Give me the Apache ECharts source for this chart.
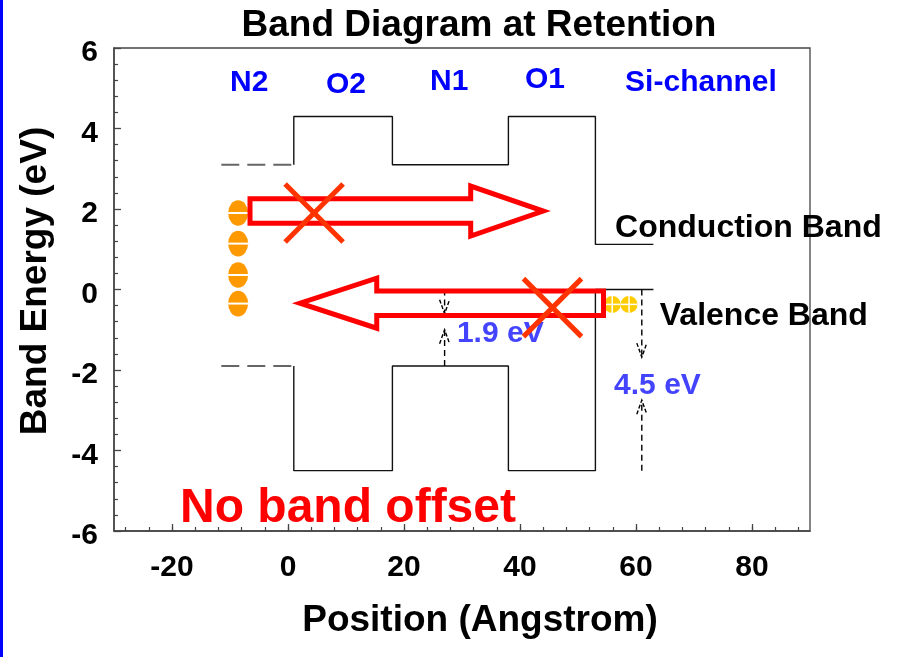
<!DOCTYPE html>
<html>
<head>
<meta charset="utf-8">
<title>Band Diagram at Retention</title>
<script src="https://cdn.jsdelivr.net/npm/echarts@6/dist/echarts.min.js"></script>
<style>
  html, body { margin: 0; padding: 0; background: #ffffff; }
  #chart { width: 899px; height: 657px; }
</style>
</head>
<body>
<div id="chart"></div>
<script>
// ---- Stack layers (N2 / O2 / N1 / O1 / Si channel) ----
const layerNames = ['N2', 'O2', 'N1', 'O1', 'Si-channel'];
const layerEdges = [-11.5, 1, 18, 38, 53, 63];          // layer boundaries, Angstrom
const conductionBand = [3.1, 4.3, 3.1, 4.3, 1.12];      // eV, one value per layer
const valenceBand = [-1.9, -4.5, -1.9, -4.5, 0];        // eV, one value per layer
const layerLabelX = [-6.7, 10, 27.8, 44.3, 71.2];
const layerLabelY = [5.14, 5.09, 5.15, 5.2, 5.13];

// ---- Axis ticks ----
const xMajorTicks = [-20, 0, 20, 40, 60, 80];
const xMinorTicks = [-28, -24, -20, -16, -12, -8, -4, 0, 4, 8, 12, 16, 20, 24, 28, 32, 36,
                     40, 44, 48, 52, 56, 60, 64, 68, 72, 76, 80, 84, 88];
const yTickLabels = [-6, -4, -2, 0, 2, 4, 6];

// ---- Band name labels ----
const bandNames = ['Conduction Band', 'Valence Band'];
const bandNameX = [56.4, 64.1];
const bandNameY = [1.52, -0.66];

// ---- Stored electrons in N2 and holes in the Si channel ----
const electronX = [-8.6, -8.6, -8.6, -8.6];
const electronY = [1.9, 1.14, 0.36, -0.35];
const holeX = [55.9, 58.8];
const holeY = [-0.37, -0.37];

// ---- Hollow block arrows (tail x, head-base x, tip x, energy) ----
const arrowTailX = [-6.55, 54.4];
const arrowHeadX = [31.5, 15.3];
const arrowTipX = [44.0, 2.07];
const arrowY = [1.95, -0.34];

// ---- Crosses over the blocked paths ----
const crossX = [4.5, 45.6];
const crossY = [1.9, -0.45];

// ---- Valence band offset markers, measured from the Si valence band ----
const offsetMarkX = [27, 61];
const offsetLayer = [2, 3];               // N1, O1
const offsetTipTop = [-0.6, -1.68];
const offsetTipBottom = [-1.0, -2.75];
const offsetLabelX = [36.6, 63.7];
const offsetLabelY = [-1.1, -2.4];

const FONT = '"Liberation Sans", Arial, Helvetica, sans-serif';
const SI = layerNames.length - 1;

// step outline of one band edge through the solid layers
function bandPath(levels) {
  const pts = [[layerEdges[1], levels[0]]];
  for (let i = 1; i < levels.length; i++) {
    pts.push([layerEdges[i], levels[i]]);
    pts.push([layerEdges[i + 1], levels[i]]);
  }
  return pts;
}

// text annotations placed in data coordinates
const textItems = [];
layerNames.forEach((n, i) => textItems.push({ x: layerLabelX[i], y: layerLabelY[i], text: n,
  font: 'bold 30px ' + FONT, fill: '#0000FF', align: 'center' }));
bandNames.forEach((n, i) => textItems.push({ x: bandNameX[i], y: bandNameY[i], text: n,
  font: 'bold 32px ' + FONT, fill: '#000000', align: 'left' }));
offsetMarkX.forEach((x, i) => {
  const gap = valenceBand[SI] - valenceBand[offsetLayer[i]];
  textItems.push({ x: offsetLabelX[i], y: offsetLabelY[i], text: gap.toFixed(1) + ' eV',
    font: 'bold 30px ' + FONT, fill: '#4444FF', align: 'center' });
});

const chart = echarts.init(document.getElementById('chart'), null, { renderer: 'canvas' });

const axisColor = '#444444';

const option = {
  animation: false,
  backgroundColor: '#ffffff',
  title: {
    text: 'Band Diagram at Retention',
    left: 479, top: 7, textAlign: 'center', padding: 0,
    textStyle: { fontFamily: FONT, fontWeight: 'bold', fontSize: 37, color: '#000000' }
  },
  grid: {
    left: 114, right: 89, top: 48, bottom: 126,
    show: true, borderColor: axisColor, borderWidth: 1.3, backgroundColor: 'transparent'
  },
  xAxis: [
    {
      type: 'value', min: -30, max: 90, position: 'bottom',
      axisLine: { show: true, onZero: false, lineStyle: { color: axisColor, width: 1.5 } },
      axisTick: { show: true, inside: true, length: 7, customValues: xMajorTicks,
                  lineStyle: { color: axisColor, width: 1.3 } },
      axisLabel: { show: true, customValues: xMajorTicks, margin: 22,
                   fontFamily: FONT, fontWeight: 'bold', fontSize: 30, color: '#000000' },
      splitLine: { show: false }
    },
    {
      type: 'value', min: -30, max: 90, position: 'bottom',
      axisLine: { show: false, onZero: false },
      axisTick: { show: true, inside: true, length: 4, customValues: xMinorTicks,
                  lineStyle: { color: axisColor, width: 1.2 } },
      axisLabel: { show: false },
      splitLine: { show: false }
    }
  ],
  yAxis: {
    type: 'value', min: -6, max: 6, interval: 2,
    axisLine: { show: true, onZero: false, lineStyle: { color: axisColor, width: 1.5 } },
    axisTick: { show: true, inside: true, length: 7, lineStyle: { color: axisColor, width: 1.3 } },
    minorTick: { show: true, splitNumber: 5, length: 4, lineStyle: { color: axisColor, width: 1.2 } },
    axisLabel: {
      show: true, margin: 16, color: '#000000',
      formatter: v => (yTickLabels.indexOf(v) >= 0 ? '{t|' + v + '}' : ''),
      rich: { t: { fontFamily: FONT, fontWeight: 'bold', fontSize: 30, color: '#000000',
                   padding: [10, 0, 0, 0] } }
    },
    splitLine: { show: false }
  },
  graphic: [
    { type: 'rect', left: 0, top: 0, shape: { width: 3, height: 657 }, style: { fill: '#0000FF' }, z: 10 },
    { type: 'text', x: 480, y: 621, z: 10,
      style: { text: 'Position (Angstrom)', font: 'bold 37px ' + FONT, fill: '#000000',
               textAlign: 'center', textVerticalAlign: 'middle' } },
    { type: 'text', x: 36, y: 281, rotation: Math.PI / 2, z: 10,
      style: { text: 'Band Energy (eV)', font: 'bold 37px ' + FONT, fill: '#000000',
               textAlign: 'center', textVerticalAlign: 'middle' } },
    { type: 'text', x: 348, y: 509, z: 10,
      style: { text: 'No band offset', font: 'bold 48px ' + FONT, fill: '#FF0000',
               textAlign: 'center', textVerticalAlign: 'middle' } }
  ],
  series: [
    {
      name: 'N2 conduction edge', type: 'line', xAxisIndex: 0, yAxisIndex: 0,
      symbol: 'none', z: 3,
      lineStyle: { color: '#666666', width: 2, type: [18, 8] },
      data: [[layerEdges[0], conductionBand[0]], [layerEdges[1], conductionBand[0]]]
    },
    {
      name: 'N2 valence edge', type: 'line', xAxisIndex: 0, yAxisIndex: 0,
      symbol: 'none', z: 3,
      lineStyle: { color: '#666666', width: 2, type: [18, 8] },
      data: [[layerEdges[0], valenceBand[0]], [layerEdges[1], valenceBand[0]]]
    },
    {
      name: 'Conduction band', type: 'line', xAxisIndex: 0, yAxisIndex: 0,
      symbol: 'none', z: 3,
      lineStyle: { color: '#111111', width: 1.4 },
      data: bandPath(conductionBand)
    },
    {
      name: 'Valence band', type: 'line', xAxisIndex: 0, yAxisIndex: 0,
      symbol: 'none', z: 3,
      lineStyle: { color: '#111111', width: 1.4 },
      data: bandPath(valenceBand)
    },
    {
      name: 'Offset markers', type: 'custom', xAxisIndex: 0, yAxisIndex: 0, z: 4,
      data: offsetMarkX.map((x, i) => [x, valenceBand[SI], offsetTipTop[i], offsetTipBottom[i],
                                       valenceBand[offsetLayer[i]]]),
      encode: { x: 0, y: [1, 2, 3, 4] },
      renderItem(params, api) {
        const x = api.value(0);
        const top = api.coord([x, api.value(1)]);
        const t1 = api.coord([x, api.value(2)]);
        const t2 = api.coord([x, api.value(3)]);
        const bot = api.coord([x, api.value(4)]);
        const st = { stroke: '#000000', lineWidth: 1.4, lineDash: [6, 4], fill: 'none' };
        const hw = 5, hl = 14;
        return {
          type: 'group',
          children: [
            { type: 'line', shape: { x1: top[0], y1: top[1], x2: t1[0], y2: t1[1] }, style: st },
            { type: 'polyline', shape: { points: [[t1[0] - hw, t1[1] - hl], [t1[0], t1[1]], [t1[0] + hw, t1[1] - hl]] },
              style: { stroke: '#000000', lineWidth: 1.4, lineDash: [4, 2], fill: 'none' } },
            { type: 'line', shape: { x1: bot[0], y1: bot[1], x2: t2[0], y2: t2[1] }, style: st },
            { type: 'polyline', shape: { points: [[t2[0] - hw, t2[1] + hl], [t2[0], t2[1]], [t2[0] + hw, t2[1] + hl]] },
              style: { stroke: '#000000', lineWidth: 1.4, lineDash: [4, 2], fill: 'none' } }
          ]
        };
      }
    },
    {
      name: 'Labels', type: 'custom', xAxisIndex: 0, yAxisIndex: 0, z: 5,
      data: textItems.map(t => [t.x, t.y]),
      encode: { x: 0, y: 1 },
      renderItem(params, api) {
        const t = textItems[params.dataIndex];
        const p = api.coord([api.value(0), api.value(1)]);
        return {
          type: 'text', x: p[0], y: p[1],
          style: { text: t.text, font: t.font, fill: t.fill,
                   textAlign: t.align, textVerticalAlign: 'middle' }
        };
      }
    },
    {
      name: 'Electrons', type: 'custom', xAxisIndex: 0, yAxisIndex: 0, z: 6,
      data: electronX.map((x, i) => [x, electronY[i]]),
      encode: { x: 0, y: 1 },
      renderItem(params, api) {
        const p = api.coord([api.value(0), api.value(1)]);
        return {
          type: 'group',
          children: [
            { type: 'circle', x: p[0], y: p[1], scaleY: 1.28, shape: { cx: 0, cy: 0, r: 10 },
              style: { fill: '#FF9900' } },
            { type: 'line', shape: { x1: p[0] - 10, y1: p[1], x2: p[0] + 10, y2: p[1] },
              style: { stroke: '#ffffff', lineWidth: 2 } }
          ]
        };
      }
    },
    {
      name: 'Holes', type: 'custom', xAxisIndex: 0, yAxisIndex: 0, z: 6,
      data: holeX.map((x, i) => [x, holeY[i]]),
      encode: { x: 0, y: 1 },
      renderItem(params, api) {
        const p = api.coord([api.value(0), api.value(1)]);
        const r = 8.5;
        return {
          type: 'group',
          children: [
            { type: 'circle', shape: { cx: p[0], cy: p[1], r: r }, style: { fill: '#FFCC00' } },
            { type: 'line', shape: { x1: p[0] - r, y1: p[1], x2: p[0] + r, y2: p[1] },
              style: { stroke: '#ffffff', lineWidth: 1.5 } },
            { type: 'line', shape: { x1: p[0], y1: p[1] - r, x2: p[0], y2: p[1] + r },
              style: { stroke: '#ffffff', lineWidth: 1.5 } }
          ]
        };
      }
    },
    {
      name: 'Tunnelling paths', type: 'custom', xAxisIndex: 0, yAxisIndex: 0, z: 7,
      data: arrowTailX.map((x, i) => [x, arrowHeadX[i], arrowTipX[i], arrowY[i]]),
      encode: { x: [0, 1, 2], y: 3 },
      renderItem(params, api) {
        const y = api.value(3);
        const tail = api.coord([api.value(0), y]);
        const head = api.coord([api.value(1), y]);
        const tip = api.coord([api.value(2), y]);
        const s = 12.2, h = 25;
        const cy = tail[1];
        return {
          type: 'polygon',
          shape: { points: [[tail[0], cy - s], [head[0], cy - s], [head[0], cy - h], [tip[0], tip[1]],
                            [head[0], cy + h], [head[0], cy + s], [tail[0], cy + s]] },
          style: { fill: 'none', stroke: '#FF0000', lineWidth: 5, lineJoin: 'miter', miterLimit: 10 }
        };
      }
    },
    {
      name: 'Blocked', type: 'custom', xAxisIndex: 0, yAxisIndex: 0, z: 8,
      data: crossX.map((x, i) => [x, crossY[i]]),
      encode: { x: 0, y: 1 },
      renderItem(params, api) {
        const p = api.coord([api.value(0), api.value(1)]);
        const d = 29;
        const st = { stroke: '#FF3300', lineWidth: 5 };
        return {
          type: 'group',
          children: [
            { type: 'line', shape: { x1: p[0] - d, y1: p[1] - d, x2: p[0] + d, y2: p[1] + d }, style: st },
            { type: 'line', shape: { x1: p[0] + d, y1: p[1] - d, x2: p[0] - d, y2: p[1] + d }, style: st }
          ]
        };
      }
    }
  ]
};

chart.setOption(option);
</script>
</body>
</html>
